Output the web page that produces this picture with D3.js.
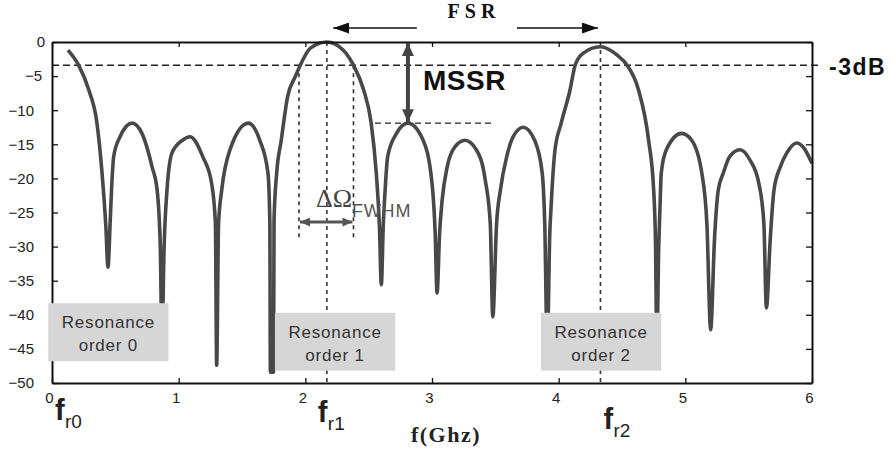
<!DOCTYPE html>
<html>
<head>
<meta charset="utf-8">
<script src="https://cdn.jsdelivr.net/npm/d3@7"></script>
<style>
  body { margin: 0; background: #fff; }
  svg { display: block; }
</style>
</head>
<body>
<svg width="892" height="454"></svg>
<script>
// values
var freq = [0.126, 0.21, 0.29, 0.355, 0.395, 0.425, 0.442, 0.46, 0.47, 0.487, 0.537, 0.632, 0.71, 0.79, 0.83, 0.855, 0.868, 0.885, 0.908, 0.947, 1.03,
            1.09, 1.19, 1.26, 1.29, 1.30, 1.315, 1.34, 1.405, 1.55, 1.64, 1.705, 1.72, 1.724, 1.749, 1.753, 1.774, 1.81, 1.86, 1.92, 1.96,
            2.04, 2.17, 2.30, 2.38, 2.46, 2.52, 2.56, 2.585, 2.60, 2.615, 2.63, 2.65, 2.72, 2.81, 2.93,
            3.0, 3.025, 3.04, 3.06, 3.08, 3.12, 3.18, 3.26, 3.35, 3.42, 3.46, 3.48, 3.51, 3.54, 3.59, 3.64, 3.72, 3.81, 3.87, 3.89, 3.91, 3.93, 3.94, 3.97,
            4.02, 4.09, 4.13, 4.19, 4.33, 4.46, 4.54, 4.63, 4.71, 4.75, 4.765, 4.775, 4.79, 4.80, 4.81, 4.85, 4.97,
            5.05, 5.13, 5.17, 5.20, 5.23, 5.26, 5.30, 5.35, 5.43, 5.51, 5.58, 5.62, 5.64, 5.67, 5.70, 5.75, 5.80, 5.88, 5.93, 6.0];
var gain = [-1.2, -3.4, -7, -11.9, -19.2, -27, -33, -26, -21.7, -16.8, -13.9, -11.9, -13.4, -18.3, -21.7, -30, -44, -30, -21.7, -16.3, -14.4,
            -13.9, -16.8, -20.7, -26.6, -47.4, -26.6, -21.7, -15.8, -11.9, -14.4, -19.2, -26.6, -48.4, -48.4, -26, -19.2, -14.4, -8, -5.1, -3.4,
            -0.9, 0, -1.2, -3.4, -7, -11.9, -19.2, -27, -35.6, -27, -21.7, -16.8, -13.4, -11.9, -14.4,
            -20.7, -28, -36.8, -28, -23.2, -18.3, -15.4, -14.4, -15.8, -20.2, -26.6, -40.3, -26.6, -21.7, -16.8, -13.9, -12.5, -14.4, -19.2, -26.6, -45, -28, -24.2, -16,
            -11.9, -7, -3.4, -1.7, -0.7, -1.9, -3.4, -7, -14.4, -21.7, -30, -45, -30, -24.2, -19.2, -15.8, -13.4,
            -14.4, -19.2, -26.6, -42.2, -29, -21.7, -19.2, -16.8, -15.8, -17.3, -20.7, -26.6, -39, -29, -21.7, -18.3, -16.3, -14.8, -15.4, -17.8];

var xTicks = [0, 1, 2, 3, 4, 5, 6];
var yTicks = [0, -5, -10, -15, -20, -25, -30, -35, -40, -45, -50];

var fr = [0, 2.17, 4.33];            // resonance frequencies
var frNames = ["r0", "r1", "r2"];
var orderNames = ["order 0", "order 1", "order 2"];
var halfPower = -3.4;                // the -3dB line as drawn
var sideLobe = -11.9;                // highest side lobe (MSSR)
var fwhm = [1.95, 2.38];

var svg = d3.select("svg"),
    plotL = 52, plotT = 42, plotR = 812, plotB = 383;

var x = d3.scaleLinear().domain([0, 6]).range([plotL, plotR]),
    y = d3.scaleLinear().domain([-50, 0]).range([plotB, plotT]);

var sans = "'Liberation Sans', Arial, sans-serif",
    serif = "'Liberation Serif', 'Times New Roman', serif";

var defs = svg.append("defs");
function arrowHead(id, color, w, h) {
  defs.append("marker")
      .attr("id", id)
      .attr("markerUnits", "userSpaceOnUse")
      .attr("viewBox", "0 0 10 10")
      .attr("refX", 10).attr("refY", 5)
      .attr("markerWidth", w).attr("markerHeight", h)
      .attr("orient", "auto-start-reverse")
      .attr("preserveAspectRatio", "none")
      .append("path")
      .attr("d", "M0,0L10,5L0,10Z")
      .attr("fill", color);
}
arrowHead("headBlack", "#111", 16, 11);
arrowHead("headGray", "#444", 13, 12);
arrowHead("headSmall", "#555", 10, 9);

// dashed guides
svg.append("line")
   .attr("x1", plotL).attr("x2", x(6.05))
   .attr("y1", y(halfPower)).attr("y2", y(halfPower))
   .attr("stroke", "#222").attr("stroke-width", 1.6)
   .attr("stroke-dasharray", "7,4");

svg.selectAll(".frline")
   .data(fr.slice(1))
   .enter().append("line")
   .attr("class", "frline")
   .attr("x1", function(d) { return x(d); }).attr("x2", function(d) { return x(d); })
   .attr("y1", y(0)).attr("y2", y(-50))
   .attr("stroke", "#333").attr("stroke-width", 1.6)
   .attr("stroke-dasharray", "4,4");

svg.selectAll(".fwline")
   .data(fwhm)
   .enter().append("line")
   .attr("class", "fwline")
   .attr("x1", function(d) { return x(d); }).attr("x2", function(d) { return x(d); })
   .attr("y1", y(halfPower)).attr("y2", y(-29))
   .attr("stroke", "#333").attr("stroke-width", 1.6)
   .attr("stroke-dasharray", "4,4");

svg.append("line")
   .attr("x1", x(2.55)).attr("x2", x(3.48))
   .attr("y1", y(sideLobe)).attr("y2", y(sideLobe))
   .attr("stroke", "#222").attr("stroke-width", 1.4)
   .attr("stroke-dasharray", "6,4");

// transmission curve
var line = d3.line()
    .x(function(d) { return x(d[0]); })
    .y(function(d) { return y(d[1]); })
    .curve(d3.curveMonotoneX);

svg.append("path")
   .datum(d3.zip(freq, gain))
   .attr("d", line)
   .attr("fill", "none")
   .attr("stroke", "#484848")
   .attr("stroke-width", 3.6)
   .attr("stroke-linejoin", "round");

// frame and axes
var frame = svg.append("g");
var xAxisG = frame.append("g")
  .attr("transform", "translate(0," + plotB + ")")
  .call(d3.axisBottom(x).tickValues(xTicks).tickSize(-5).tickSizeOuter(0).tickPadding(9).tickFormat(d3.format("d")));
frame.append("g")
  .attr("transform", "translate(0," + plotT + ")")
  .call(d3.axisTop(x).tickValues(xTicks).tickSize(-5).tickSizeOuter(0).tickFormat(""));
var yAxisG = frame.append("g")
  .attr("transform", "translate(" + plotL + ",0)")
  .call(d3.axisLeft(y).tickValues(yTicks).tickSize(-6).tickSizeOuter(0).tickPadding(18).tickFormat(d3.format("d")));
frame.append("g")
  .attr("transform", "translate(" + plotR + ",0)")
  .call(d3.axisRight(y).tickValues(yTicks).tickSize(-6).tickSizeOuter(0).tickFormat(""));

frame.selectAll(".domain").attr("stroke", "#111").attr("stroke-width", 2);
frame.selectAll(".tick line").attr("stroke", "#111").attr("stroke-width", 1.3);
frame.selectAll("text")
  .attr("font-family", sans).attr("font-size", 15).attr("fill", "#222");
xAxisG.selectAll(".tick text").attr("dx", -3);
yAxisG.selectAll(".tick text")
  .attr("dx", function(d) { return d === 0 ? 11 : (d === -5 ? 8 : 0); });

// resonance boxes
var boxes = [
  { f0: -0.03, f1: 0.92, d0: -38.3, d1: -46.8 },
  { f0: 1.76, f1: 2.71, d0: -39.7, d1: -48.2 },
  { f0: 3.86, f1: 4.81, d0: -39.7, d1: -48.2 }
];
var box = svg.selectAll(".box")
  .data(boxes)
  .enter().append("g")
  .attr("class", "box");
box.append("rect")
  .attr("x", function(d) { return x(d.f0); })
  .attr("y", function(d) { return y(d.d0); })
  .attr("width", function(d) { return x(d.f1) - x(d.f0); })
  .attr("height", function(d) { return y(d.d1) - y(d.d0); })
  .attr("fill", "#d6d6d6");
box.append("text")
  .attr("x", function(d) { return (x(d.f0) + x(d.f1)) / 2; })
  .attr("y", function(d) { return y(d.d0) + 25; })
  .attr("text-anchor", "middle")
  .attr("font-family", sans).attr("font-size", 17).attr("letter-spacing", 0.8)
  .attr("fill", "#333")
  .text("Resonance");
box.append("text")
  .attr("x", function(d) { return (x(d.f0) + x(d.f1)) / 2; })
  .attr("y", function(d) { return y(d.d0) + 48; })
  .attr("text-anchor", "middle")
  .attr("font-family", sans).attr("font-size", 17).attr("letter-spacing", 0.8)
  .attr("fill", "#333")
  .text(function(d, i) { return orderNames[i]; });

// f_r labels under the axis
var frShift = [3, -9, 3], frDrop = [420, 422, 429];
fr.forEach(function(f, i) {
  svg.append("text")
     .attr("x", x(f) + frShift[i]).attr("y", frDrop[i])
     .attr("font-family", sans).attr("font-weight", "bold").attr("font-size", 29)
     .attr("fill", "#222")
     .text("f");
  svg.append("text")
     .attr("x", x(f) + frShift[i] + 10).attr("y", frDrop[i] + 8)
     .attr("font-family", sans).attr("font-size", 19)
     .attr("fill", "#222")
     .text(frNames[i]);
});

svg.append("text")
   .attr("x", 446).attr("y", 442)
   .attr("text-anchor", "middle")
   .attr("font-family", serif).attr("font-weight", "bold").attr("font-size", 22)
   .attr("letter-spacing", 1.5).attr("fill", "#222")
   .text("f(Ghz)");

// -3dB label
svg.append("text")
   .attr("x", 829).attr("y", 75)
   .attr("font-family", sans).attr("font-weight", "bold").attr("font-size", 23)
   .attr("letter-spacing", 1.5).attr("fill", "#111")
   .text("-3dB");

// FSR
svg.append("text")
   .attr("x", 474).attr("y", 18)
   .attr("text-anchor", "middle")
   .attr("font-family", serif).attr("font-weight", "bold").attr("font-size", 20)
   .attr("letter-spacing", 5).attr("fill", "#111")
   .text("FSR");
svg.append("line")
   .attr("x1", x(2.88)).attr("x2", x(2.22))
   .attr("y1", 28).attr("y2", 28)
   .attr("stroke", "#111").attr("stroke-width", 1.6)
   .attr("marker-end", "url(#headBlack)");
svg.append("line")
   .attr("x1", x(3.67)).attr("x2", x(4.31))
   .attr("y1", 28).attr("y2", 28)
   .attr("stroke", "#111").attr("stroke-width", 1.6)
   .attr("marker-end", "url(#headBlack)");

// MSSR
svg.append("line")
   .attr("x1", x(2.81)).attr("x2", x(2.81))
   .attr("y1", y(0) + 1).attr("y2", y(sideLobe) - 1)
   .attr("stroke", "#444").attr("stroke-width", 4)
   .attr("marker-start", "url(#headGray)")
   .attr("marker-end", "url(#headGray)");
svg.append("text")
   .attr("x", 423).attr("y", 90)
   .attr("font-family", sans).attr("font-weight", "bold").attr("font-size", 28)
   .attr("letter-spacing", 0.5).attr("fill", "#111")
   .text("MSSR");

// FWHM
svg.append("line")
   .attr("x1", x(fwhm[0]) + 1).attr("x2", x(fwhm[1]) - 1)
   .attr("y1", y(-26.4)).attr("y2", y(-26.4))
   .attr("stroke", "#555").attr("stroke-width", 3)
   .attr("marker-start", "url(#headSmall)")
   .attr("marker-end", "url(#headSmall)");
svg.append("text")
   .attr("x", 316).attr("y", 207)
   .attr("font-family", serif).attr("font-size", 26)
   .attr("fill", "#444")
   .text("\u0394\u03A9");
svg.append("text")
   .attr("x", 352).attr("y", 217)
   .attr("font-family", sans).attr("font-size", 18)
   .attr("letter-spacing", 0.8)
   .attr("fill", "#555")
   .text("FWHM");
</script>
</body>
</html>
